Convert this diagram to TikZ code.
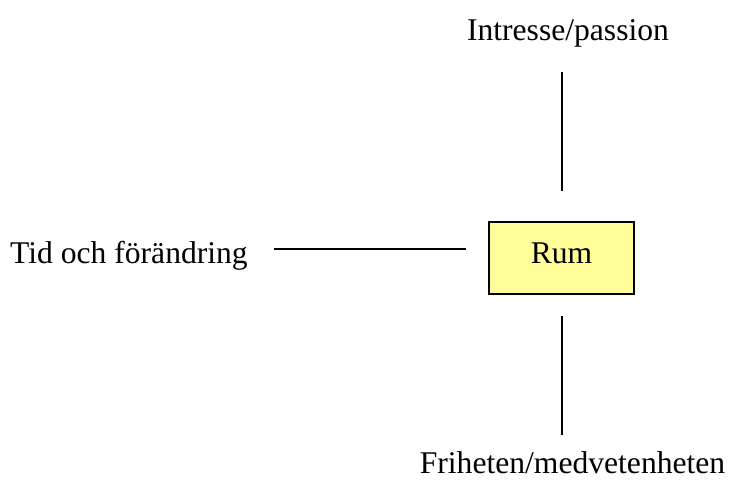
\documentclass[tikz,border=0pt]{standalone}
\usepackage{fontspec}
\setmainfont{Liberation Serif}
\usepackage{xcolor}
\usepackage{tikz}
\usetikzlibrary{positioning}
\definecolor{boxyellow}{HTML}{FFFF99}

\begin{document}
\begin{tikzpicture}[x=0.5pt, y=-0.5pt, line width=1pt,
		font=\fontsize{15.8}{19}\selectfont,
		main/.style = {draw, fill=boxyellow, minimum width=72.5pt, minimum height=36pt, text depth=5pt},
		lbl/.style = {inner sep=0pt, anchor=base}]
		\useasboundingbox (0,0) rectangle (731,482);
		\node[main] (rum) at (561.5,258) {Rum};
		\node[lbl] (top) at (568,40) {Intresse/passion};
		\node[lbl] (bot) at (572.5,473) {Friheten/medvetenheten};
		\node[lbl] (lft) at (129,263) {Tid och förändring};
		\coordinate (lnk) at ([yshift=4.5pt]rum.west);
		
		\draw[shorten <=12pt, shorten >=15pt] (rum.north |- top.south) -- (rum.north);
		\draw[shorten <=10.5pt, shorten >=7.5pt] (rum.south) -- (rum.south |- bot.north);
		\draw[shorten <=12.5pt, shorten >=11.25pt] (lnk -| lft.east) -- (lnk);
	\end{tikzpicture}
\end{document}
